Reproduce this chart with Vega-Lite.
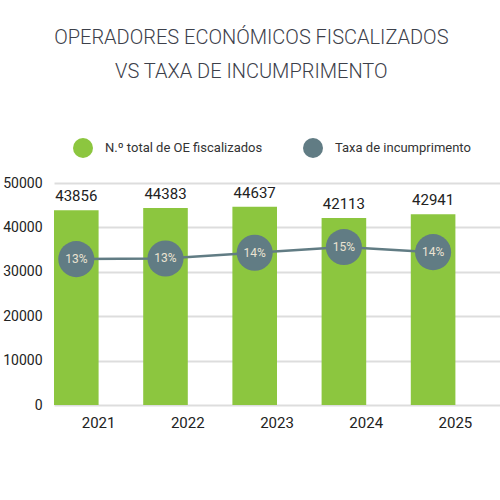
{
  "$schema": "https://vega.github.io/schema/vega-lite/v6.json",
  "width": 446,
  "height": 222,
  "autosize": {"type": "none"},
  "padding": {"left": 54, "top": 183, "right": 0, "bottom": 95},
  "background": "white",
  "title": {
    "text": ["OPERADORES ECONÓMICOS FISCALIZADOS", "VS TAXA DE INCUMPRIMENTO"],
    "font": "Roboto",
    "fontSize": 20,
    "fontWeight": 300,
    "color": "#3c404a",
    "lineHeight": 34,
    "anchor": "middle",
    "frame": "bounds",
    "offset": 55
  },
  "data": {
    "values": [
      {"ano": "2021", "operadores": 43856, "taxa": 0.130},
      {"ano": "2022", "operadores": 44383, "taxa": 0.131},
      {"ano": "2023", "operadores": 44637, "taxa": 0.140},
      {"ano": "2024", "operadores": 42113, "taxa": 0.149},
      {"ano": "2025", "operadores": 42941, "taxa": 0.141}
    ]
  },
  "encoding": {
    "x": {
      "field": "ano",
      "type": "ordinal",
      "scale": {"type": "band", "paddingInner": 0, "paddingOuter": 0},
      "axis": {
        "title": null,
        "labelAngle": 0,
        "ticks": false,
        "domain": false,
        "labelPadding": 10,
        "labelFontSize": 15,
        "labelColor": "#222222"
      }
    }
  },
  "layer": [
    {
      "layer": [
        {
          "mark": {"type": "bar", "width": {"band": 0.5}, "xOffset": -22.3, "color": "#8cc63f"},
          "encoding": {
            "color": {
              "datum": "N.º total de OE fiscalizados",
              "type": "nominal",
              "scale": {
                "domain": ["N.º total de OE fiscalizados", "Taxa de incumprimento"],
                "range": ["#8cc63f", "#617c84"]
              },
              "legend": {
                "title": null,
                "orient": "none",
                "legendX": 18,
                "legendY": -46,
                "direction": "horizontal",
                "symbolType": "circle",
                "symbolSize": 400,
                "symbolOpacity": 1,
                "labelFontSize": 13,
                "labelLimit": 0,
                "labelColor": "#333333",
                "labelOffset": 11,
                "columnPadding": 39
              }
            }
          }
        },
        {
          "mark": {"type": "text", "xOffset": -22.3, "dy": -6, "baseline": "bottom", "fontSize": 15, "color": "#222222"},
          "encoding": {
            "text": {"field": "operadores", "type": "quantitative", "format": "d"}
          }
        }
      ],
      "encoding": {
        "y": {
          "field": "operadores",
          "type": "quantitative",
          "scale": {"domain": [0, 50000]},
          "axis": {
            "title": null,
            "values": [0, 10000, 20000, 30000, 40000, 50000],
            "format": "d",
            "ticks": false,
            "domain": false,
            "labelPadding": 12,
            "labelFontSize": 14,
            "labelColor": "#222222",
            "gridColor": "#dddddd",
            "gridWidth": 2
          }
        }
      }
    },
    {
      "layer": [
        {
          "mark": {"type": "line", "xOffset": -22.3, "color": "#617c84", "strokeWidth": 2.5},
          "encoding": {}
        },
        {
          "mark": {"type": "point", "xOffset": -22.3, "filled": true, "opacity": 1, "size": 1300, "shape": "circle"},
          "encoding": {
            "color": {"datum": "Taxa de incumprimento", "type": "nominal"}
          }
        },
        {
          "mark": {"type": "text", "xOffset": -22.3, "fontSize": 12, "color": "#ebe3d2"},
          "encoding": {
            "text": {"field": "taxa", "type": "quantitative", "format": ".0%"}
          }
        }
      ],
      "encoding": {
        "y": {
          "field": "taxa",
          "type": "quantitative",
          "scale": {"domain": [-0.10, 0.25], "zero": false},
          "axis": null
        }
      }
    }
  ],
  "resolve": {"scale": {"y": "independent"}},
  "config": {
    "font": "Roboto",
    "view": {"stroke": null},
    "axis": {"labelFont": "Roboto"},
    "legend": {"labelFont": "Roboto"},
    "text": {"font": "Roboto"}
  }
}
